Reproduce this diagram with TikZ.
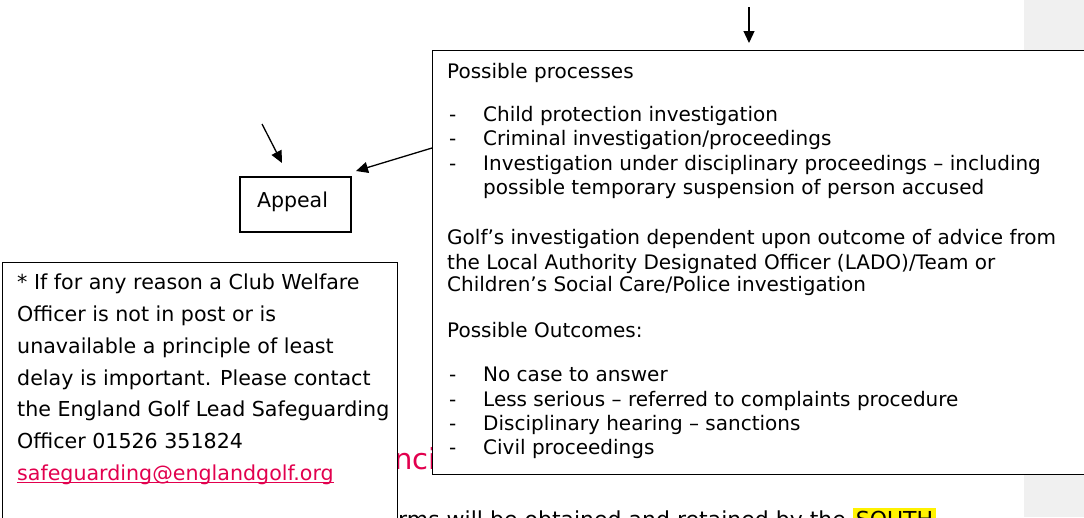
\documentclass[tikz,border=0pt]{standalone}
\usepackage{fontspec}
\setmainfont{DejaVu Sans}
\usetikzlibrary{arrows.meta}
\definecolor{linkred}{RGB}{226,0,78}
\definecolor{greystrip}{RGB}{240,240,240}
\tikzset{
  box/.style={draw=black, line width=1.2pt, fill=white, inner sep=0pt},
  arr/.style={line width=1.3pt, -{Triangle[length=12pt,width=11pt]}},
  txt/.style={anchor=base west, inner sep=0pt, font=\fontsize{20}{24}\selectfont},
  notetxt/.style={anchor=base west, inner sep=0pt, font=\fontsize{20.6}{24}\selectfont},
  bodytxt/.style={anchor=base west, inner sep=0pt, font=\fontsize{22}{26}\selectfont},
}
\begin{document}
\begin{tikzpicture}[x=1pt,y=-1pt]
\useasboundingbox (0,0) rectangle (1084,517);
\clip (0,0) rectangle (1084,517);
\fill[greystrip] (1024,0) rectangle (1084,517);
% body text behind the boxes
\node[bodytxt] (body) at (398,527) {rms will be obtained and retained by the \colorbox{yellow}{\rule[-6pt]{0pt}{22pt}SOUTH}};
\node[anchor=base west, inner sep=0pt, text=linkred, font=\fontsize{29}{32}\selectfont] (head) at (394,469) {nci};
% note box
\node[box, anchor=north west, minimum width=395pt, minimum height=300pt] (note) at (2,262) {};
\node[notetxt] (n1) at (17,289) {* If for any reason a Club Welfare};
\node[notetxt] (n2) at (17,321) {Officer is not in post or is};
\node[notetxt] (n3) at (17,353) {unavailable a principle of least};
\node[notetxt] (n4) at (17,385) {delay is important. Please contact};
\node[notetxt] (n5) at (17,416) {the England Golf Lead Safeguarding};
\node[notetxt] (n6) at (17,448) {Officer 01526 351824};
\node[notetxt, text=linkred] (email) at (17,480) {safeguarding@englandgolf.org};
\draw[linkred, line width=1.2pt] ([yshift=-2.5pt]email.base west) -- ([yshift=-2.5pt]email.base east);
% processes box
\node[box, anchor=north west, minimum width=670pt, minimum height=424pt] (proc) at (432,50) {};
\node[txt] (p0) at (447,78) {Possible processes};
\node[txt] (d1) at (449,121) {-};
\node[txt] (p1) at (483,121) {Child protection investigation};
\node[txt] (d2) at (449,145) {-};
\node[txt] (p2) at (483,145) {Criminal investigation/proceedings};
\node[txt] (d3) at (449,170) {-};
\node[txt] (p3) at (483,170) {Investigation under disciplinary proceedings – including};
\node[txt] (p4) at (483,194) {possible temporary suspension of person accused};
\node[txt] (g1) at (447,244) {Golf’s investigation dependent upon outcome of advice from};
\node[txt] (g2) at (447,269) {the Local Authority Designated Officer (LADO)/Team or};
\node[txt] (g3) at (447,291) {Children’s Social Care/Police investigation};
\node[txt] (o0) at (447,337) {Possible Outcomes:};
\node[txt] (e1) at (449,381) {-};
\node[txt] (o1) at (483,381) {No case to answer};
\node[txt] (e2) at (449,406) {-};
\node[txt] (o2) at (483,406) {Less serious – referred to complaints procedure};
\node[txt] (e3) at (449,430) {-};
\node[txt] (o3) at (483,430) {Disciplinary hearing – sanctions};
\node[txt] (e4) at (449,454) {-};
\node[txt] (o4) at (483,454) {Civil proceedings};
% appeal box
\node[box, minimum width=111pt, minimum height=55pt] (appeal) at (295.5,204.5) {};
\node[anchor=base, inner sep=0pt, font=\fontsize{20.5}{24}\selectfont] (appealtxt) at (292.5,207) {Appeal};
% arrows
\coordinate (a1s) at (749,7);
\coordinate (a1e) at (749,43);
\draw[arr] (a1s) -- (a1e);
\coordinate (a2s) at (262,124);
\coordinate (a2e) at (282,163);
\draw[arr] (a2s) -- (a2e);
\coordinate (a3s) at (proc.west |- 0,148);
\coordinate (a3e) at (356,171);
\draw[arr] (a3s) -- (a3e);
\end{tikzpicture}
\end{document}
